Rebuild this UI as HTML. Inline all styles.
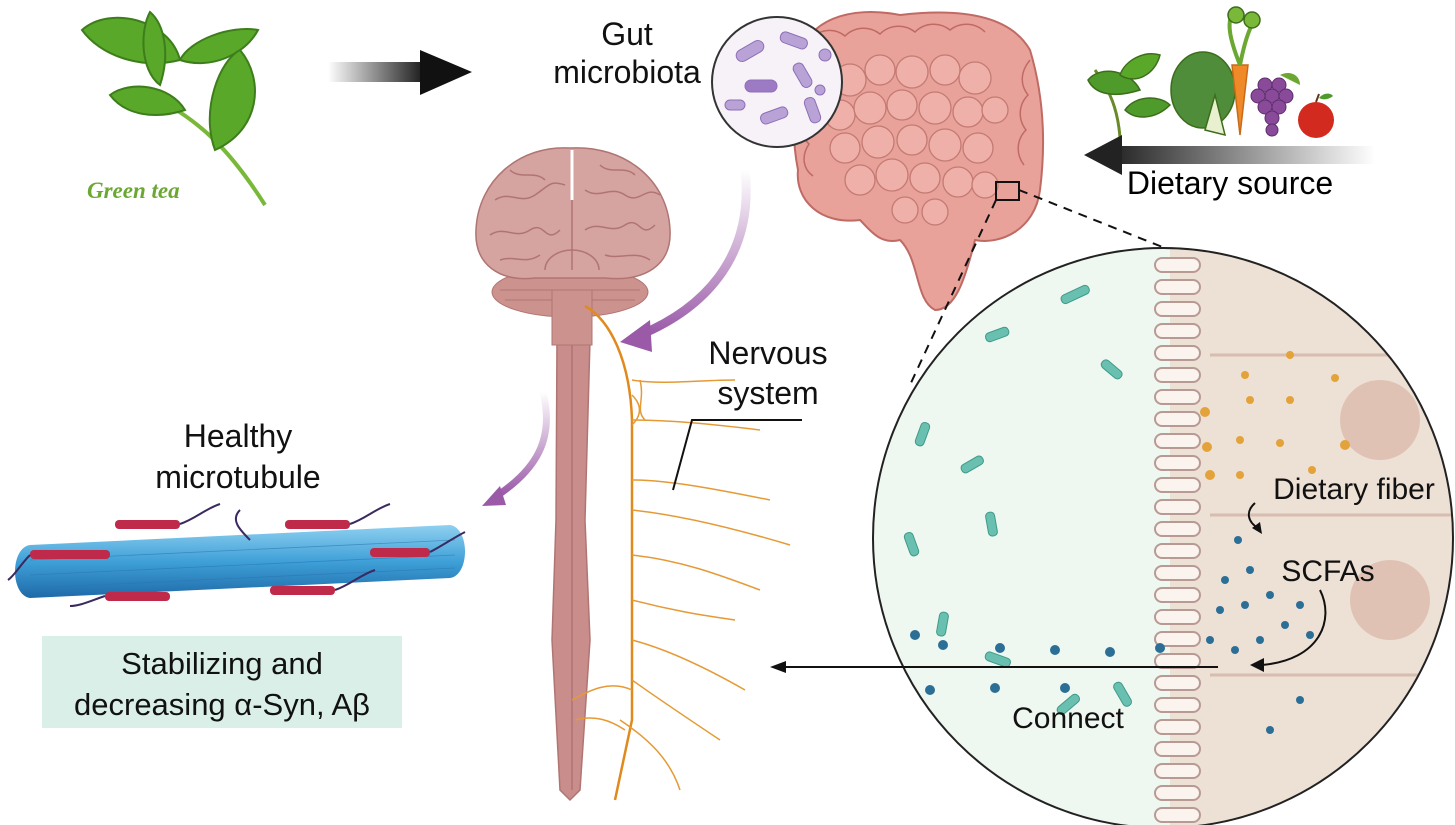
<!DOCTYPE html>
<html><head><style>
html,body{margin:0;padding:0;background:#fff;}
svg{display:block;}
text{font-family:"Liberation Sans",sans-serif;}
</style></head><body>
<svg width="1455" height="825" viewBox="0 0 1455 825" xmlns="http://www.w3.org/2000/svg">
<defs>
<linearGradient id="ga" x1="0" x2="1"><stop offset="0" stop-color="#fff"/><stop offset="1" stop-color="#111"/></linearGradient>
<linearGradient id="gb" x1="1" x2="0"><stop offset="0" stop-color="#fff"/><stop offset="1" stop-color="#222"/></linearGradient>
<linearGradient id="gp" x1="0" y1="0" x2="0" y2="1"><stop offset="0" stop-color="#fff"/><stop offset="1" stop-color="#9a5aa8"/></linearGradient>
<clipPath id="bc"><circle cx="1163" cy="538" r="290"/></clipPath>
<linearGradient id="mt" x1="0" y1="0" x2="0" y2="1"><stop offset="0" stop-color="#8fd0f0"/><stop offset="0.5" stop-color="#3fa0d8"/><stop offset="1" stop-color="#1e6aa8"/></linearGradient>
</defs>

<!-- green tea -->
<g fill="#5aa829" stroke="#3d7d1b" stroke-width="2">
<path d="M265 205 C230 150 200 120 150 95" fill="none" stroke="#7ab83a" stroke-width="4"/>
<path d="M82 30 C110 5 170 20 180 60 C140 70 100 55 82 30Z"/>
<path d="M150 12 C165 25 170 55 160 85 C140 70 140 30 150 12Z"/>
<path d="M180 60 C190 40 230 25 258 30 C245 55 210 70 180 60Z"/>
<path d="M110 95 C130 80 170 85 185 110 C155 120 125 115 110 95Z"/>
<path d="M215 150 C200 110 220 60 240 50 C265 80 260 130 215 150Z"/>
</g>
<text x="87" y="198" style="font-family:'Liberation Serif',serif;font-size:23px;font-style:italic;font-weight:bold" fill="#6aa832">Green tea</text>

<!-- top arrow -->
<rect x="328" y="62" width="100" height="20" fill="url(#ga)"/>
<polygon points="420,50 472,72 420,95" fill="#111"/>

<g font-size="32" text-anchor="middle" fill="#111">
<text x="627" y="45">Gut</text>
<text x="627" y="83">microbiota</text>
</g>

<!-- intestines -->
<path d="M800 60 C805 20 850 5 900 15 C960 8 1010 15 1030 50 C1045 100 1045 150 1040 190 C1035 230 1000 245 975 240 C965 280 955 310 935 310 C915 300 920 260 900 240 C880 245 870 230 860 220 C820 225 795 200 798 170 C790 130 795 100 800 60Z" fill="#e8a29a" stroke="#c06a64" stroke-width="2"/>
<g fill="#eeb0a8" stroke="#c47a72" stroke-width="1.3">
<circle cx="850" cy="80" r="16"/><circle cx="880" cy="70" r="15"/><circle cx="912" cy="72" r="16"/><circle cx="945" cy="70" r="15"/><circle cx="975" cy="78" r="16"/>
<circle cx="840" cy="115" r="15"/><circle cx="870" cy="108" r="16"/><circle cx="902" cy="105" r="15"/><circle cx="935" cy="108" r="16"/><circle cx="968" cy="112" r="15"/><circle cx="995" cy="110" r="13"/>
<circle cx="845" cy="148" r="15"/><circle cx="878" cy="142" r="16"/><circle cx="912" cy="140" r="15"/><circle cx="945" cy="145" r="16"/><circle cx="978" cy="148" r="15"/>
<circle cx="860" cy="180" r="15"/><circle cx="892" cy="175" r="16"/><circle cx="925" cy="178" r="15"/><circle cx="958" cy="182" r="15"/><circle cx="985" cy="185" r="13"/>
<circle cx="905" cy="210" r="13"/><circle cx="935" cy="212" r="13"/>
</g>
<g fill="none" stroke="#c06a64" stroke-width="1.5">
<path d="M810 40 c10 -12 25 -12 35 -4 c10 -10 25 -10 35 -2 c10 -10 25 -10 35 -2 c10 -10 25 -10 35 -2 c10 -8 25 -8 35 2"/>
<path d="M1030 60 c-10 12 -10 25 -2 35 c-10 10 -10 25 -2 35 c-10 10 -10 25 -2 35"/>
<path d="M805 80 c-8 12 -6 25 2 32 c-8 12 -6 25 2 32 c-8 12 -6 25 4 32"/>
</g>

<!-- microbiota circle -->
<circle cx="777" cy="82" r="65" fill="#f6f2f8" stroke="#333" stroke-width="2"/>
<g fill="#b9a3d6" stroke="#8d6fb8" stroke-width="1">
<rect x="735" y="45" width="30" height="12" rx="6" transform="rotate(-30 750 51)"/>
<rect x="780" y="35" width="28" height="11" rx="5" transform="rotate(20 794 40)"/>
<rect x="745" y="80" width="32" height="12" rx="6" fill="#9d7bc4"/>
<rect x="790" y="70" width="26" height="11" rx="5" transform="rotate(60 803 75)"/>
<rect x="760" y="110" width="28" height="11" rx="5" transform="rotate(-20 774 115)"/>
<rect x="800" y="105" width="26" height="11" rx="5" transform="rotate(70 813 110)"/>
<rect x="725" y="100" width="20" height="10" rx="5"/>
<circle cx="825" cy="55" r="6"/><circle cx="820" cy="90" r="5"/>
</g>

<!-- veggies -->
<g stroke="#3d6d1b" stroke-width="1.5">
<path d="M1120 138 C1118 110 1110 90 1095 70" fill="none" stroke="#6a8a2a" stroke-width="3"/>
<path d="M1088 80 C1100 65 1130 70 1140 90 C1115 98 1095 95 1088 80Z" fill="#4e9a2a"/>
<path d="M1120 75 C1125 60 1145 50 1160 55 C1155 75 1135 85 1120 75Z" fill="#5aa829"/>
<path d="M1125 110 C1135 95 1160 95 1170 105 C1155 120 1135 120 1125 110Z" fill="#4e9a2a"/>
<ellipse cx="1203" cy="90" rx="32" ry="38" fill="#4f8d3a"/>
<path d="M1205 130 L1225 135 L1215 95Z" fill="#e8f0d0"/>
<path d="M1240 135 L1232 65 L1248 65Z" fill="#f08a28" stroke="#c96a18"/>
<path d="M1240 65 C1230 40 1225 20 1235 10 M1240 65 C1245 40 1250 25 1258 15" fill="none" stroke="#6aa832" stroke-width="4"/>
<circle cx="1236" cy="15" r="8" fill="#7ab83a"/><circle cx="1252" cy="20" r="8" fill="#7ab83a"/>
</g>
<g fill="#8a4a9a" stroke="#5d2d6d" stroke-width="1">
<circle cx="1265" cy="85" r="7"/><circle cx="1279" cy="85" r="7"/><circle cx="1272" cy="96" r="7"/><circle cx="1258" cy="96" r="7"/><circle cx="1286" cy="96" r="7"/><circle cx="1265" cy="107" r="7"/><circle cx="1279" cy="107" r="7"/><circle cx="1272" cy="118" r="7"/><circle cx="1272" cy="130" r="6"/>
</g>
<path d="M1280 75 C1290 70 1300 75 1300 85" fill="#6aa832"/>
<circle cx="1316" cy="120" r="18" fill="#d22a1e"/>
<path d="M1316 102 l3 -8" stroke="#5a3a1a" stroke-width="2"/>
<path d="M1319 98 c5 -6 12 -5 14 -2 c-5 4 -10 4 -14 2z" fill="#4e9a2a"/>

<rect x="1110" y="146" width="265" height="18" fill="url(#gb)"/>
<polygon points="1122,135 1084,155 1122,175" fill="#222"/>
<text x="1230" y="194" font-size="32" text-anchor="middle">Dietary source</text>

<!-- zoom square & dashed -->
<rect x="996" y="182" width="23" height="18" fill="none" stroke="#111" stroke-width="2"/>
<line x1="996" y1="200" x2="910" y2="385" stroke="#111" stroke-width="2" stroke-dasharray="9,7"/>
<line x1="1019" y1="190" x2="1170" y2="250" stroke="#111" stroke-width="2" stroke-dasharray="9,7"/>

<!-- big circle -->
<g clip-path="url(#bc)">
<rect x="870" y="245" width="300" height="590" fill="#eef7f0"/>
<rect x="1170" y="245" width="300" height="590" fill="#ede0d5"/>
<g fill="#faf3ee" stroke="#b89a94" stroke-width="2">
<rect x="1155" y="258" width="45" height="14" rx="7"/><rect x="1155" y="280" width="45" height="14" rx="7"/><rect x="1155" y="302" width="45" height="14" rx="7"/><rect x="1155" y="324" width="45" height="14" rx="7"/><rect x="1155" y="346" width="45" height="14" rx="7"/><rect x="1155" y="368" width="45" height="14" rx="7"/><rect x="1155" y="390" width="45" height="14" rx="7"/><rect x="1155" y="412" width="45" height="14" rx="7"/><rect x="1155" y="434" width="45" height="14" rx="7"/><rect x="1155" y="456" width="45" height="14" rx="7"/><rect x="1155" y="478" width="45" height="14" rx="7"/><rect x="1155" y="500" width="45" height="14" rx="7"/><rect x="1155" y="522" width="45" height="14" rx="7"/><rect x="1155" y="544" width="45" height="14" rx="7"/><rect x="1155" y="566" width="45" height="14" rx="7"/><rect x="1155" y="588" width="45" height="14" rx="7"/><rect x="1155" y="610" width="45" height="14" rx="7"/><rect x="1155" y="632" width="45" height="14" rx="7"/><rect x="1155" y="654" width="45" height="14" rx="7"/><rect x="1155" y="676" width="45" height="14" rx="7"/><rect x="1155" y="698" width="45" height="14" rx="7"/><rect x="1155" y="720" width="45" height="14" rx="7"/><rect x="1155" y="742" width="45" height="14" rx="7"/><rect x="1155" y="764" width="45" height="14" rx="7"/><rect x="1155" y="786" width="45" height="14" rx="7"/><rect x="1155" y="808" width="45" height="14" rx="7"/>
</g>
<line x1="1210" y1="355" x2="1460" y2="355" stroke="#d7bdb0" stroke-width="3"/>
<line x1="1210" y1="515" x2="1460" y2="515" stroke="#d7bdb0" stroke-width="3"/>
<line x1="1210" y1="675" x2="1460" y2="675" stroke="#d7bdb0" stroke-width="3"/>
<circle cx="1380" cy="420" r="40" fill="#dfc2b4"/>
<circle cx="1390" cy="600" r="40" fill="#dfc2b4"/>
<g fill="#e4a23a"><circle cx="1245" cy="375" r="4"/><circle cx="1290" cy="355" r="4"/><circle cx="1335" cy="378" r="4"/><circle cx="1250" cy="400" r="4"/><circle cx="1205" cy="412" r="5"/><circle cx="1290" cy="400" r="4"/><circle cx="1345" cy="445" r="5"/><circle cx="1207" cy="447" r="5"/><circle cx="1240" cy="440" r="4"/><circle cx="1280" cy="443" r="4"/><circle cx="1240" cy="475" r="4"/><circle cx="1210" cy="475" r="5"/><circle cx="1312" cy="470" r="4"/></g>
<g fill="#2c6f96"><circle cx="1238" cy="540" r="4"/><circle cx="1250" cy="570" r="4"/><circle cx="1225" cy="580" r="4"/><circle cx="1270" cy="595" r="4"/><circle cx="1300" cy="605" r="4"/><circle cx="1245" cy="605" r="4"/><circle cx="1220" cy="610" r="4"/><circle cx="1285" cy="625" r="4"/><circle cx="1260" cy="640" r="4"/><circle cx="1310" cy="635" r="4"/><circle cx="1235" cy="650" r="4"/><circle cx="1210" cy="640" r="4"/><circle cx="1300" cy="700" r="4"/><circle cx="1270" cy="730" r="4"/>
<circle cx="875" cy="630" r="5"/><circle cx="915" cy="635" r="5"/><circle cx="943" cy="645" r="5"/><circle cx="1000" cy="648" r="5"/><circle cx="1055" cy="650" r="5"/><circle cx="1110" cy="652" r="5"/><circle cx="1160" cy="648" r="5"/><circle cx="930" cy="690" r="5"/><circle cx="995" cy="688" r="5"/><circle cx="1065" cy="688" r="5"/><circle cx="843" cy="678" r="5"/></g>
<g fill="#6ac0b0" stroke="#3f9a88" stroke-width="1">
<rect x="985" y="330" width="24" height="9" rx="4" transform="rotate(-20 997 334)"/>
<rect x="1060" y="290" width="30" height="9" rx="4" transform="rotate(-25 1075 294)"/>
<rect x="1100" y="365" width="24" height="9" rx="4" transform="rotate(40 1112 369)"/>
<rect x="910" y="430" width="24" height="9" rx="4" transform="rotate(-70 922 434)"/>
<rect x="960" y="460" width="24" height="9" rx="4" transform="rotate(-30 972 464)"/>
<rect x="980" y="520" width="24" height="9" rx="4" transform="rotate(80 992 524)"/>
<rect x="900" y="540" width="24" height="9" rx="4" transform="rotate(70 912 544)"/>
<rect x="930" y="620" width="24" height="9" rx="4" transform="rotate(-80 942 624)"/>
<rect x="985" y="655" width="26" height="9" rx="4" transform="rotate(20 998 659)"/>
<rect x="1055" y="700" width="26" height="9" rx="4" transform="rotate(-40 1068 704)"/>
<rect x="1110" y="690" width="26" height="9" rx="4" transform="rotate(60 1123 694)"/>
</g>
</g>
<circle cx="1163" cy="538" r="290" fill="none" stroke="#222" stroke-width="2"/>
<g font-size="30" text-anchor="middle" fill="#111">
<text x="1354" y="499">Dietary fiber</text>
<text x="1328" y="581">SCFAs</text>
<text x="1068" y="728">Connect</text>
</g>
<path d="M1255 503 C1245 512 1248 522 1258 528" fill="none" stroke="#111" stroke-width="2"/>
<polygon points="1262,534 1252,528 1260,522" fill="#111"/>
<path d="M1320 590 C1335 620 1320 660 1262 665" fill="none" stroke="#111" stroke-width="2"/>
<polygon points="1250,665 1264,658 1264,672" fill="#111"/>
<line x1="1218" y1="667" x2="785" y2="667" stroke="#111" stroke-width="2"/>
<polygon points="770,667 786,661 786,673" fill="#111"/>

<!-- purple arrows -->
<path d="M745 170 C755 260 700 310 640 335" fill="none" stroke="url(#gp)" stroke-width="9" stroke-linecap="round"/>
<polygon points="620,342 650,320 652,352" fill="#9a5aa8"/>
<path d="M543 392 C555 440 535 470 498 495" fill="none" stroke="url(#gp)" stroke-width="7" stroke-linecap="round"/>
<polygon points="482,506 500,486 506,505" fill="#9a5aa8"/>

<!-- brain & spinal cord -->
<path d="M557 340 L590 340 L585 520 L590 640 L580 790 L570 800 L560 790 L552 640 L556 520Z" fill="#c98e8c" stroke="#b07572" stroke-width="1.5"/>
<line x1="572" y1="340" x2="572" y2="790" stroke="#b07572" stroke-width="1.5"/>
<ellipse cx="570" cy="292" rx="78" ry="25" fill="#cc928e" stroke="#b07572"/>
<g fill="none" stroke="#b07572" stroke-width="1"><path d="M500 290 h140 M505 300 h130"/></g>
<rect x="552" y="290" width="40" height="55" fill="#cc928e" stroke="#b07572"/>
<path d="M570 148 C520 145 478 180 476 230 C474 265 500 282 535 278 L605 278 C645 282 672 265 670 230 C668 180 625 145 570 148Z" fill="#d5a3a0" stroke="#b07572" stroke-width="1.5"/>
<line x1="572" y1="150" x2="572" y2="200" stroke="#fff" stroke-width="3"/>
<line x1="572" y1="200" x2="572" y2="270" stroke="#b07572" stroke-width="1.5"/>
<g fill="none" stroke="#b07572" stroke-width="1.5">
<path d="M495 200 c15 -10 25 5 40 -5 s15 -15 30 -10"/><path d="M490 235 c15 -10 25 5 40 -5 s15 15 30 0"/>
<path d="M585 190 c15 10 25 -5 40 5 s20 -10 35 0"/><path d="M585 230 c15 -10 25 5 40 -5 s15 15 30 0"/>
<path d="M510 170 c10 10 25 0 35 10"/><path d="M600 165 c10 10 25 0 35 10"/>
<path d="M545 270 a27 20 0 0 1 54 0"/>
<path d="M500 260 c15 -5 25 5 40 -5 M605 255 c15 5 30 -5 45 5"/>
</g>

<!-- nerves -->
<g fill="none" stroke="#e08a1e" stroke-width="2.5">
<path d="M585 306 C610 320 630 360 632 420 L632 720 L615 800"/>
</g>
<g fill="none" stroke="#e59a35" stroke-width="1.5">
<path d="M632 380 C660 385 700 380 735 380"/>
<path d="M632 420 C670 420 720 425 760 430"/>
<path d="M632 480 C670 480 720 490 770 500"/>
<path d="M632 510 C680 515 740 530 790 545"/>
<path d="M632 555 C680 560 720 575 760 590"/>
<path d="M632 600 C670 610 700 615 735 620"/>
<path d="M632 640 C670 650 710 670 745 690"/>
<path d="M632 680 C660 700 690 720 720 740"/>
<path d="M620 720 C650 740 670 760 680 790"/>
<path d="M632 395 c10 10 10 20 0 30 M640 380 c5 20 -5 30 5 40"/>
<path d="M572 700 C590 690 610 680 632 690 M575 720 C595 715 610 720 625 730"/>
</g>
<g font-size="32" text-anchor="middle" fill="#111">
<text x="768" y="364">Nervous</text>
<text x="768" y="404">system</text>
</g>
<polyline points="802,420 692,420 673,490" fill="none" stroke="#111" stroke-width="2"/>

<!-- microtubule -->
<g font-size="32" text-anchor="middle" fill="#111">
<text x="238" y="447">Healthy</text>
<text x="238" y="488">microtubule</text>
</g>
<path d="M30 545 L450 525 C470 528 470 575 450 578 L30 598 C10 595 10 548 30 545Z" fill="url(#mt)"/>
<g stroke="#2a75b0" stroke-width="0.8" opacity="0.6">
<path d="M30 560 L455 540 M30 575 L455 555 M30 588 L455 568"/>
</g>
<g fill="#c02a4a">
<rect x="115" y="520" width="65" height="9" rx="4"/><rect x="285" y="520" width="65" height="9" rx="4"/>
<rect x="30" y="550" width="80" height="9" rx="4"/><rect x="370" y="548" width="60" height="9" rx="4"/>
<rect x="105" y="592" width="65" height="9" rx="4"/><rect x="270" y="586" width="65" height="9" rx="4"/>
</g>
<g fill="none" stroke="#3a2a60" stroke-width="2">
<path d="M180 524 c15 -5 25 -15 40 -20"/><path d="M350 524 c15 -5 25 -15 40 -20"/>
<path d="M30 555 c-10 10 -15 20 -22 25"/><path d="M430 552 c10 -5 25 -15 35 -20"/>
<path d="M105 596 c-15 5 -25 10 -35 10"/><path d="M335 590 c15 -5 25 -15 40 -20"/>
<path d="M250 540 c-10 -10 -20 -20 -10 -30"/>
</g>

<rect x="42" y="636" width="360" height="92" fill="#d9efe8"/>
<g font-size="31" text-anchor="middle" fill="#111">
<text x="222" y="674">Stabilizing and</text>
<text x="222" y="715">decreasing α-Syn, Aβ</text>
</g>
</svg>
</body></html>
